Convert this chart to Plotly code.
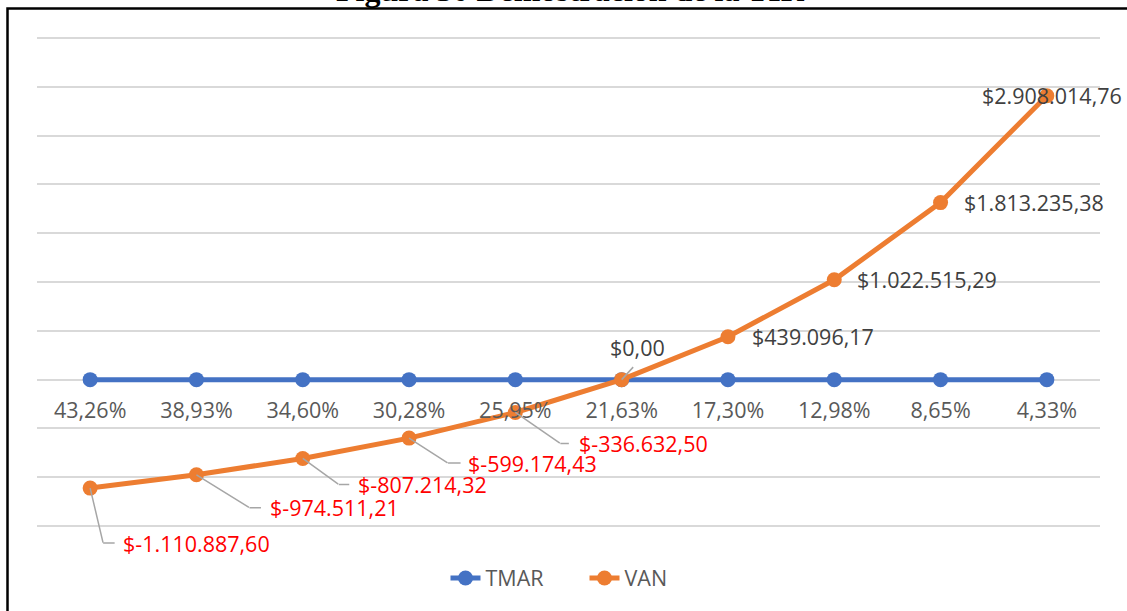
import plotly.graph_objects as go

# ---- data ----
rates = ["43,26%", "38,93%", "34,60%", "30,28%", "25,95%",
         "21,63%", "17,30%", "12,98%", "8,65%", "4,33%"]
tmar = [0, 0, 0, 0, 0, 0, 0, 0, 0, 0]
van = [-1110887.60, -974511.21, -807214.32, -599174.43, -336632.50,
       0.00, 439096.17, 1022515.29, 1813235.38, 2908014.76]
van_labels = ["$-1.110.887,60", "$-974.511,21", "$-807.214,32", "$-599.174,43",
              "$-336.632,50", "$0,00", "$439.096,17", "$1.022.515,29",
              "$1.813.235,38", "$2.908.014,76"]

# label placement (pixel offsets, screen y downwards) and leader lines
label_off = [(31, 55), (72, 33), (53, 26), (57, 25), (62, 31),
             (16, -32), (22, 0), (21, 0), (21, 0), (5, 0)]
label_anchor = ["left"] * 5 + ["center", "left", "left", "left", "center"]
leaders = [[(13, 55), (25, 55)], [(53, 33), (65, 33)], [(36, 26), (47, 26)],
           [(39, 25), (52, 25)], [(45, 31), (54, 31)], [(12, -13)],
           None, None, None, None]

BLUE = "#4472C4"
ORANGE = "#ED7D31"
GREY_LINE = "#A6A6A6"
FONT = "Open Sans"
FS = 21.5

# plot-area geometry in pixels
W, H = 1127, 611
L, R, T, B = 37, 1100, 35, 529
PW, PH = R - L, B - T
def px_x(p):
    return (p - L) / PW
def px_y(q):
    return (B - q) / PH

fig = go.Figure()
fig.add_trace(go.Scatter(x=rates, y=tmar, name="TMAR", mode="lines+markers",
                         line=dict(color=BLUE, width=5),
                         marker=dict(color=BLUE, size=15)))
fig.add_trace(go.Scatter(x=rates, y=van, name="VAN", mode="lines+markers",
                         line=dict(color=ORANGE, width=5),
                         marker=dict(color=ORANGE, size=15)))

annotations = []

def segment(cat, v, start, end):
    """leader-line segment drawn as an annotation arrow (pixel offsets from the point)."""
    annotations.append(dict(x=cat, y=v, xref="x", yref="y", text="",
                            showarrow=True, arrowhead=0, arrowwidth=1.5,
                            arrowcolor=GREY_LINE, standoff=0, startstandoff=0,
                            xshift=start[0], yshift=-start[1],
                            ax=end[0] - start[0], ay=end[1] - start[1],
                            axref="pixel", ayref="pixel",
                            borderpad=0, font=dict(size=1)))

for i, (cat, v, txt) in enumerate(zip(rates, van, van_labels)):
    if leaders[i]:
        pts = [(0, 0)] + leaders[i]
        for a, b in zip(pts[:-1], pts[1:]):
            segment(cat, v, a, b)

for i, (cat, v, txt) in enumerate(zip(rates, van, van_labels)):
    dx, dy = label_off[i]
    color = "#FF0000" if v < 0 else "#404040"
    annotations.append(dict(x=cat, y=v, xref="x", yref="y", text=txt,
                            showarrow=False, xanchor=label_anchor[i],
                            yanchor="middle", xshift=dx, yshift=-dy,
                            font=dict(family=FONT, size=FS, color=color)))

# frame (cropped document border)
shapes = [dict(type="path", xref="paper", yref="paper",
               path=f"M {px_x(7.5)} {px_y(W)} L {px_x(7.5)} {px_y(8.5)} L {px_x(W + 20)} {px_y(8.5)}",
               line=dict(color="black", width=2.5))]

# cropped title above the chart
annotations.append(dict(x=px_x(570), y=px_y(10.3), xref="paper", yref="paper",
                        text="<b>Figura 30 Demostración de la TIR</b>",
                        showarrow=False, xanchor="center", yanchor="bottom",
                        font=dict(family="Liberation Serif", size=32, color="black")))

fig.update_layout(
    width=W, height=H,
    margin=dict(l=L, r=W - R, t=T, b=H - B),
    paper_bgcolor="white", plot_bgcolor="white",
    showlegend=True,
    legend=dict(orientation="h", x=0.5 + 16 / PW, xanchor="center", y=px_y(578), yanchor="middle",
                entrywidth=94,
                font=dict(family=FONT, size=FS, color="#595959")),
    xaxis=dict(type="category", categoryorder="array", categoryarray=rates,
               range=[-0.5, 9.5], anchor="free", position=px_y(380),
               showgrid=False, showline=False, ticks="", zeroline=False,
               ticklabelstandoff=15,
               tickfont=dict(family=FONT, size=FS, color="#595959")),
    yaxis=dict(range=[-1530000, 3530000], tick0=0, dtick=500000, showticklabels=False,
               gridcolor="#D9D9D9", gridwidth=1.5, zeroline=False, ticks=""),
    shapes=shapes, annotations=annotations,
)

fig.write_html("out.html", config={"displayModeBar": False},
               post_script="document.body.style.margin='0';document.body.style.overflow='hidden';")
